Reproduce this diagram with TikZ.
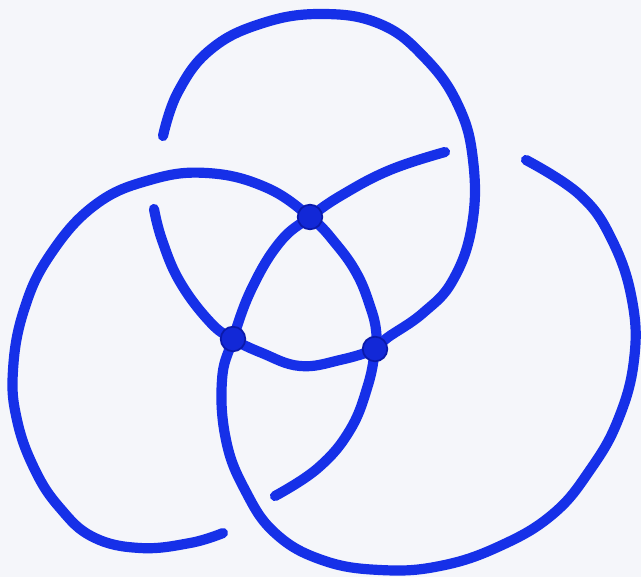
\documentclass[tikz,border=0pt]{standalone}
\begin{document}
\begin{tikzpicture}[x=0.02cm,y=-0.02cm,
  ink/.style={draw=inkblue,line width=5.8pt,line cap=round,line join=round},
  knot/.style={circle,fill=knotblue,draw=knotdark,line width=1pt,minimum size=14pt,inner sep=0pt}]
\definecolor{inkblue}{RGB}{22,48,232}
\definecolor{knotblue}{RGB}{18,40,215}
\definecolor{knotdark}{RGB}{10,25,170}
\definecolor{paper}{RGB}{245,246,250}
\fill[paper] (0,0) rectangle (641,577);
\useasboundingbox (0,0) rectangle (641,577);
% junctions
\coordinate (a) at (310,217);
\coordinate (b) at (233,339);
\coordinate (c) at (375,349);
% endpoints
\coordinate (t1) at (163,136);
\coordinate (t2) at (154,209);
\coordinate (l1) at (223,533);
\coordinate (l2) at (275,496);
\coordinate (r1) at (445,152);
\coordinate (r2) at (526,160);
% top loop
\draw[ink] plot[smooth,tension=0.7] coordinates {(t1) (178,92) (210,50) (260,24) (320,14) (380,24) (425,58) (458,105) (473,160) (472,225) (453,280) (423,313) (387,338) (c) (340,360) (300,366) (262,353) (b) (210,322) (180,282) (162,240) (t2)};
% left loop
\draw[ink] plot[smooth,tension=0.7] coordinates {(l1) (190,543) (140,548) (93,537) (60,508) (35,470) (17,420) (13,370) (24,310) (50,255) (95,205) (150,180) (207,173) (265,187) (a) (336,244) (357,274) (370,306) (376,330) (c) (368,385) (350,430) (318,468) (l2)};
% right loop
\draw[ink] plot[smooth,tension=0.7] coordinates {(r1) (390,170) (342,195) (a) (280,242) (252,288) (b) (222,380) (226,440) (245,490) (275,533) (322,560) (380,570) (440,566) (500,546) (553,514) (590,470) (618,420) (634,360) (632,300) (612,240) (580,195) (r2)};
% knots at junctions
\node[knot] (A) at (a) {};
\node[knot] (B) at (b) {};
\node[knot] (C) at (c) {};
\end{tikzpicture}
\end{document}
